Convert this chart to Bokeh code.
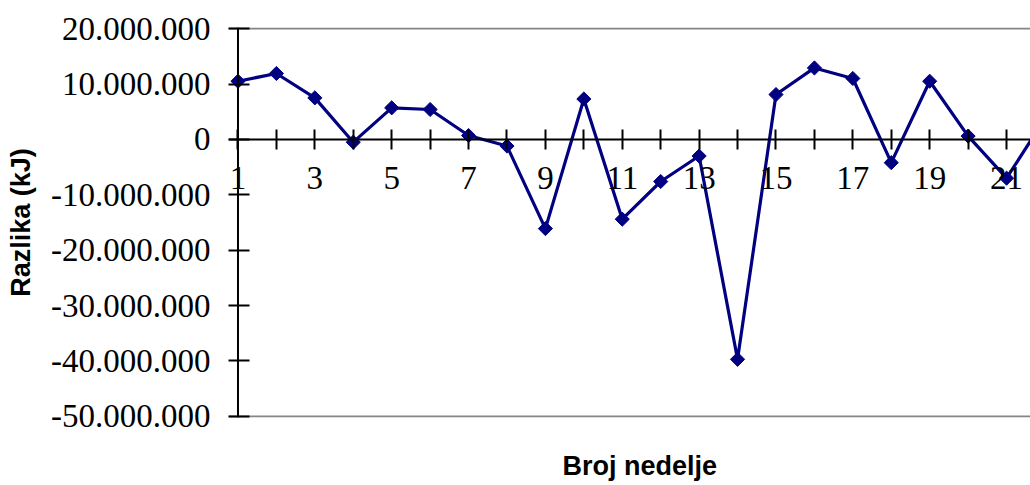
from bokeh.plotting import figure
from bokeh.models import LinearAxis, FixedTicker, Title, Span, ColumnDataSource
from bokeh.embed import file_html
from bokeh.resources import INLINE

# Weekly difference values (kJ)
weeks = list(range(1, 23))
razlika = [10.5e6, 11.9e6, 7.5e6, -0.5e6, 5.7e6, 5.4e6, 0.7e6, -1.2e6,
           -16.1e6, 7.3e6, -14.4e6, -7.6e6, -3.0e6, -39.7e6, 8.1e6, 12.9e6,
           11.0e6, -4.2e6, 10.5e6, 0.6e6, -7.0e6, 3.8e6]

y_ticks = [-50_000_000, -40_000_000, -30_000_000, -20_000_000,
           -10_000_000, 0, 10_000_000, 20_000_000]
y_tick_labels = [f"{v:,}".replace(",", ".") for v in y_ticks]
x_tick_labels = [str(w) if w % 2 == 1 else "" for w in weeks]

x_title = "Broj nedelje"
y_title = "Razlika (kJ)"

SERIF = "Liberation Serif"
SANS = "Liberation Sans"
NAVY = "#000080"

src = ColumnDataSource(dict(week=weeks, razlika=razlika))

pad = 0.2e6
p = figure(width=1030, height=485, output_backend="svg", toolbar_location=None,
           x_axis_type=None, y_axis_type=None,
           x_range=(0.753, 21.623), y_range=(y_ticks[0] - pad, y_ticks[-1] + pad),
           min_border_left=228, min_border_right=0,
           min_border_top=27, min_border_bottom=68)
p.outline_line_color = None
p.background_fill_color = "white"
p.border_fill_color = "white"
p.grid.visible = False

# gray border lines at the top and bottom of the value range
for edge in (y_ticks[0], y_ticks[-1]):
    p.add_layout(Span(location=edge, dimension="width",
                      line_color="#858585", line_width=2, level="underlay"))

# horizontal axis crossing at zero
xaxis = LinearAxis(fixed_location=0, ticker=FixedTicker(ticks=weeks),
                   major_label_overrides=dict(zip(weeks, x_tick_labels)))
xaxis.axis_line_color = "black"
xaxis.axis_line_width = 2
xaxis.major_tick_line_color = "black"
xaxis.major_tick_line_width = 2
xaxis.major_tick_in = 10
xaxis.major_tick_out = 10
xaxis.minor_tick_line_color = None
xaxis.major_label_standoff = 18
xaxis.major_label_text_font = SERIF
xaxis.major_label_text_font_size = "33px"
xaxis.major_label_text_color = "black"
p.add_layout(xaxis, "below")

# value axis on the left edge; its line is drawn at the first week
yaxis = LinearAxis(ticker=FixedTicker(ticks=y_ticks),
                   major_label_overrides=dict(zip(y_ticks, y_tick_labels)),
                   axis_label=y_title)
yaxis.axis_line_color = None
yaxis.major_tick_line_color = "black"
yaxis.major_tick_line_width = 2
yaxis.major_tick_in = 21
yaxis.major_tick_out = 0
yaxis.minor_tick_line_color = None
yaxis.major_label_standoff = 18
yaxis.major_label_text_font = SERIF
yaxis.major_label_text_font_size = "33px"
yaxis.major_label_text_color = "black"
yaxis.axis_label_text_font = SANS
yaxis.axis_label_text_font_size = "27px"
yaxis.axis_label_text_font_style = "bold"
yaxis.axis_label_text_color = "black"
yaxis.axis_label_standoff = 12
p.add_layout(yaxis, "left")
p.add_layout(Span(location=weeks[0], dimension="height",
                  line_color="black", line_width=2))

p.line("week", "razlika", source=src, line_color=NAVY, line_width=3.2)
p.scatter("week", "razlika", source=src, marker="square", angle=0.785398,
          size=10, fill_color=NAVY, line_color=NAVY)

# empty gap between the plot area and the category axis title
p.add_layout(Title(text=" ", text_font_size="1px", standoff=28), "below")
p.add_layout(Title(text=x_title, align="left", offset=334,
                   text_font=SANS, text_font_size="27px",
                   text_font_style="bold", text_color="black",
                   standoff=0), "below")

open("out.html", "w").write(file_html(p, INLINE))
